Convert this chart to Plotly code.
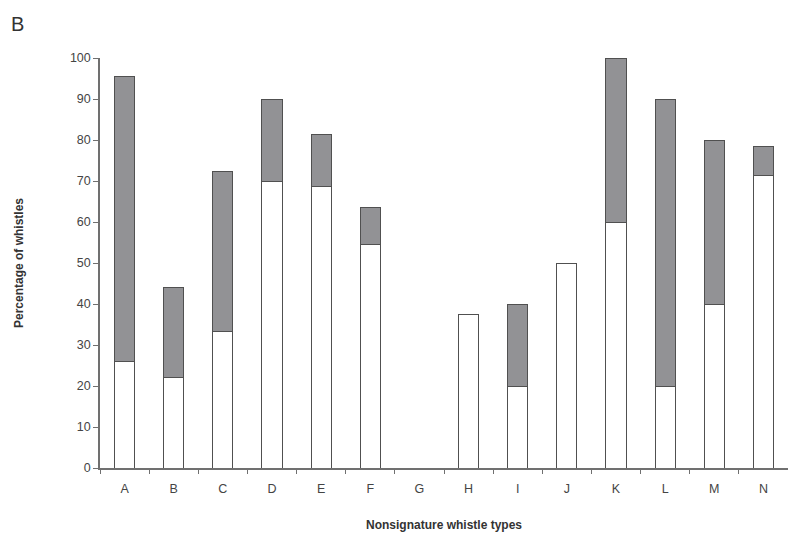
import plotly.graph_objects as go

categories = ["A", "B", "C", "D", "E", "F", "G", "H", "I", "J", "K", "L", "M", "N"]
white_pct = [26, 22, 33.3, 70, 68.75, 54.5, 0, 37.5, 20, 50, 60, 20, 40, 71.4]
total_pct = [95.6, 44, 72.2, 90, 81.25, 63.6, 0, 37.5, 40, 50, 100, 90, 80, 78.5]
gray_pct = [t - w for t, w in zip(total_pct, white_pct)]
y_ticks = list(range(0, 101, 10))

# zero-height segments are not drawn
white_plot = [v if v > 0 else None for v in white_pct]
gray_plot = [v if v > 0.01 else None for v in gray_pct]

outline = "#505050"
axis_col = "#707070"
text_col = "#444444"
font_fam = "Liberation Sans, Arial, sans-serif"

fig = go.Figure()
fig.add_trace(go.Bar(x=categories, y=white_plot, marker=dict(color="white", line=dict(color=outline, width=1)),
                     showlegend=False, hoverinfo="skip"))
fig.add_trace(go.Bar(x=categories, y=gray_plot, marker=dict(color="#929295", line=dict(color=outline, width=1)),
                     showlegend=False, hoverinfo="skip"))

fig.update_layout(
    template="none",
    barmode="stack",
    bargap=0.59,
    width=788, height=538,
    margin=dict(l=100, r=0, t=58, b=70),
    plot_bgcolor="white", paper_bgcolor="white",
    font=dict(family=font_fam, color=text_col, size=12),
    xaxis=dict(
        type="category", range=[-0.5, 13.5], tickson="boundaries",
        showline=True, linecolor=axis_col, linewidth=1.5,
        ticks="outside", ticklen=4, tickcolor=axis_col, tickwidth=1.2,
        ticklabelstandoff=8,
        showgrid=False, zeroline=False, automargin=False,
        tickfont=dict(size=12.5, color=text_col),
        title=dict(text="<b>Nonsignature whistle types</b>", font=dict(size=12, color="#333333"), standoff=26),
    ),
    yaxis=dict(
        range=[0, 100], tickvals=y_ticks,
        showline=True, linecolor=axis_col, linewidth=1.5,
        ticks="outside", ticklen=5, tickcolor=axis_col, tickwidth=1.2,
        showgrid=False, zeroline=False, automargin=False,
        tickfont=dict(size=12.5, color=text_col),
        title=dict(text="<b>Percentage of whistles</b>", font=dict(size=12, color="#333333"), standoff=44),
    ),
    annotations=[dict(text="B", x=-0.132, y=1.115, xref="paper", yref="paper", showarrow=False,
                      xanchor="left", yanchor="top", font=dict(size=20, color="#333333"))]
)

fig.write_html("out.html")
